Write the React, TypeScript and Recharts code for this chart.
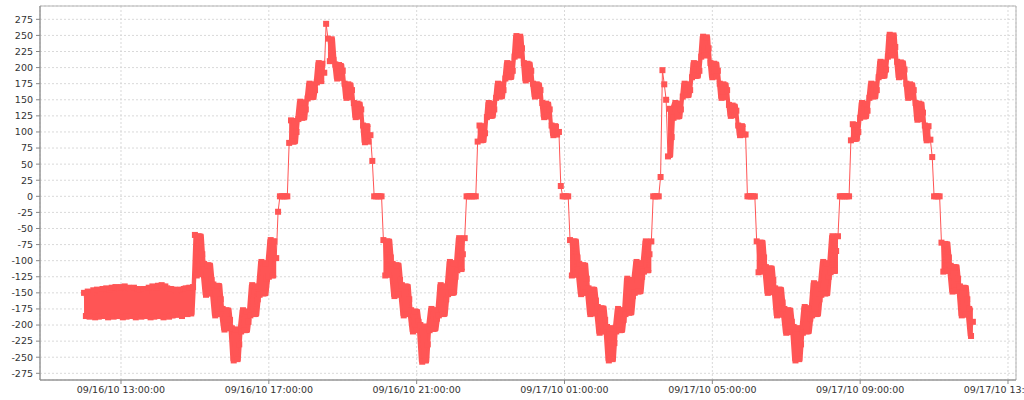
import React from "react";
import { ComposedChart, Line, Area, XAxis, YAxis, CartesianGrid, ReferenceArea } from "recharts";

// one reading every 3 minutes, starting 09/16/10 12:00:00
const STEP_MIN = 3;

// noisy runs are grouped in the 15-minute levels the signal steps through
const flatBand = [
  [-150, -186, -148, -187, -149],
  [-146, -188, -145, -187, -147],
  [-144, -186, -143, -188, -145],
  [-142, -187, -141, -186, -143],
  [-141, -188, -140, -187, -142],
  [-143, -186, -142, -188, -144],
  [-145, -187, -144, -186, -146],
  [-142, -188, -140, -187, -141],
  [-139, -186, -138, -188, -140],
  [-143, -187, -144, -185, -145],
  [-146, -184, -145, -186, -144],
  [-143, -183, -142, -182, -141],
];

const trough1 = [
  [-60, -123, -62, -121, -90],
  [-105, -153, -107, -151, -130],
  [-137, -185, -139, -183, -160],
  [-175, -207, -177, -205, -192],
  [-205, -255, -207, -253, -230],
  [-210, -177, -208, -179, -195],
  [-185, -138, -183, -140, -160],
  [-153, -102, -151, -104, -128],
  [-125, -68, -123, -70, -96],
];
const zero1 = [-24, 0, 0, 0, 0, 0];

const crest1Up = [
  [83, 118, 85, 117, 100],
  [120, 147, 122, 146, 135],
  [152, 175, 154, 174, 165],
  [177, 207, 179, 206, 192],
];
const peakSpike1 = [268];
const crest1Down = [
  [245, 210, 244, 212],
  [205, 183, 204, 184, 195],
  [175, 153, 174, 154, 165],
  [145, 123, 144, 124, 135],
  [110, 84, 109, 85, 95],
];
const zero2 = [55, 0, 0, 0, 0, 0];

const trough2 = [
  [-68, -123, -70, -122, -95],
  [-105, -155, -107, -153, -130],
  [-138, -185, -140, -183, -160],
  [-177, -210, -179, -208, -195],
  [-200, -257, -203, -255, -230],
  [-208, -175, -206, -177, -190],
  [-185, -138, -183, -140, -160],
  [-152, -102, -150, -104, -125],
  [-115, -65, -113, -90, -65],
];
const zero3 = [0, 0, 0, 0, 0, 0];

const crest2 = [
  [85, 110, 87, 109, 98],
  [123, 145, 125, 144, 135],
  [153, 175, 155, 174, 165],
  [183, 207, 185, 206, 195],
  [217, 249, 219, 248, 230],
  [207, 180, 206, 182, 195],
  [175, 155, 174, 156, 165],
  [145, 123, 144, 124, 135],
  [110, 95, 109, 96, 100],
];
const zero4 = [16, 0, 0, 0, 0];

const trough3 = [
  [-68, -123, -70, -122, -95],
  [-105, -152, -107, -150, -128],
  [-143, -183, -145, -182, -162],
  [-172, -212, -174, -210, -192],
  [-203, -255, -205, -253, -228],
  [-210, -175, -208, -177, -192],
  [-183, -128, -181, -130, -155],
  [-150, -102, -148, -104, -125],
  [-117, -70, -115, -90, -70],
];
const zero5 = [0, 0, 0, 0];
const spikes3 = [30, 196, 174, 150];
const spikeBlob3 = [[62, 136, 92]];

const crest3 = [
  [122, 145, 124, 144, 135],
  [155, 175, 157, 174, 165],
  [185, 207, 187, 206, 195],
  [217, 248, 219, 247, 230],
  [207, 185, 206, 186, 195],
  [175, 153, 174, 154, 165],
  [142, 125, 141, 126, 133],
  [110, 95, 109, 96, 96],
];
const zero6 = [0, 0, 0, 0, 0];

const trough4 = [
  [-70, -118, -72, -117, -95],
  [-110, -150, -112, -149, -130],
  [-143, -185, -145, -184, -165],
  [-175, -212, -177, -211, -195],
  [-203, -255, -205, -253, -230],
  [-212, -172, -210, -174, -190],
  [-185, -135, -183, -137, -160],
  [-153, -102, -151, -104, -125],
  [-118, -62, -116, -85, -62],
];
const zero7 = [0, 0, 0, 0, 0, 0];

const crest4 = [
  [87, 112, 89, 111, 100],
  [122, 145, 124, 144, 133],
  [153, 175, 155, 174, 165],
  [185, 209, 187, 208, 197],
  [217, 251, 219, 250, 232],
  [209, 185, 208, 186, 197],
  [175, 153, 174, 154, 165],
  [145, 119, 144, 120, 130],
  [110, 87, 109, 88],
];
const zero8 = [61, 0, 0, 0, 0];

const trough5 = [
  [-72, -117, -74, -116, -95],
  [-108, -148, -110, -147, -128],
  [-140, -185, -142, -184, -160],
  [-175, -217, -195],
];

// tick positions in minutes after 09/16/10 12:00:00
const xTicks = [60, 300, 540, 780, 1020, 1260, 1500];
const yTicks = [
  -275, -250, -225, -200, -175, -150, -125, -100, -75, -50, -25, 0,
  25, 50, 75, 100, 125, 150, 175, 200, 225, 250, 275,
];

const X_DOMAIN: [number, number] = [-71.5, 1513];
const Y_DOMAIN: [number, number] = [-285.4, 295.7];
const RED = "#ff5555";

// [levels, dense]; single readings (zeros, spikes) are kept as one thin level
const runs: [number[][], boolean][] = [
  [flatBand, true], [trough1, true], [[zero1], false],
  [crest1Up, true], [[peakSpike1], false], [crest1Down, true], [[zero2], false],
  [trough2, true], [[zero3], false], [crest2, true], [[zero4], false],
  [trough3, true], [[zero5], false], [[spikes3], false], [spikeBlob3, true], [crest3, true], [[zero6], false],
  [trough4, true], [[zero7], false], [crest4, true], [[zero8], false],
  [trough5, true],
];

// band = spread of the readings inside one level, which the dense line fills solid
const data: { t: number; v: number; band: [number, number] | null }[] = [];
runs.forEach(([levels, dense]) => {
  levels.forEach((level) => {
    const lo = Math.min(...level);
    const hi = Math.max(...level);
    level.forEach((v) => {
      data.push({ t: data.length * STEP_MIN, v, band: dense ? [lo, hi] : null });
    });
  });
});

const pad = (n: number) => (n < 10 ? "0" + n : "" + n);
const fmtTime = (m: number) => {
  const total = 12 * 60 + m;
  const day = 16 + Math.floor(total / 1440);
  const hh = Math.floor((total % 1440) / 60);
  return `09/${day}/10 ${pad(hh)}:00:00`;
};

const SquareDot = (props: any) => {
  const { cx, cy, index } = props;
  if (cx == null || cy == null) return <g key={index} />;
  return <rect key={index} x={cx - 3} y={cy - 3} width={6} height={6} fill={RED} />;
};

const tickStyle = { fill: "#333", fontSize: 9.5, fontFamily: "DejaVu Sans" };

export default function App() {
  return (
    <div style={{ position: "absolute", left: 0, top: 0, width: 1024, height: 400, background: "#fff" }}>
      <ComposedChart width={1024} height={400} data={data} margin={{ top: 6, right: 8, bottom: 0, left: 0 }}>
        <CartesianGrid stroke="#d9d9d9" strokeDasharray="2 2" />
        <ReferenceArea
          x1={X_DOMAIN[0]}
          x2={X_DOMAIN[1]}
          y1={Y_DOMAIN[0]}
          y2={Y_DOMAIN[1]}
          fill="none"
          stroke="#b4b4b4"
          ifOverflow="visible"
        />
        <XAxis
          dataKey="t"
          type="number"
          domain={X_DOMAIN}
          ticks={xTicks}
          interval={0}
          allowDataOverflow
          tickFormatter={fmtTime}
          height={20}
          tickSize={4}
          tickMargin={2}
          stroke="#888"
          tick={tickStyle}
        />
        <YAxis
          type="number"
          domain={Y_DOMAIN}
          ticks={yTicks}
          interval={0}
          allowDataOverflow
          width={40}
          tickSize={4}
          tickMargin={3}
          stroke="#888"
          tick={tickStyle}
        />
        <Area
          type="linear"
          dataKey="band"
          stroke={RED}
          strokeWidth={3}
          strokeLinejoin="round"
          fill={RED}
          fillOpacity={1}
          connectNulls={false}
          dot={false}
          activeDot={false}
          isAnimationActive={false}
        />
        <Line
          type="linear"
          dataKey="v"
          stroke={RED}
          strokeWidth={1}
          dot={SquareDot}
          activeDot={false}
          isAnimationActive={false}
        />
      </ComposedChart>
    </div>
  );
}
